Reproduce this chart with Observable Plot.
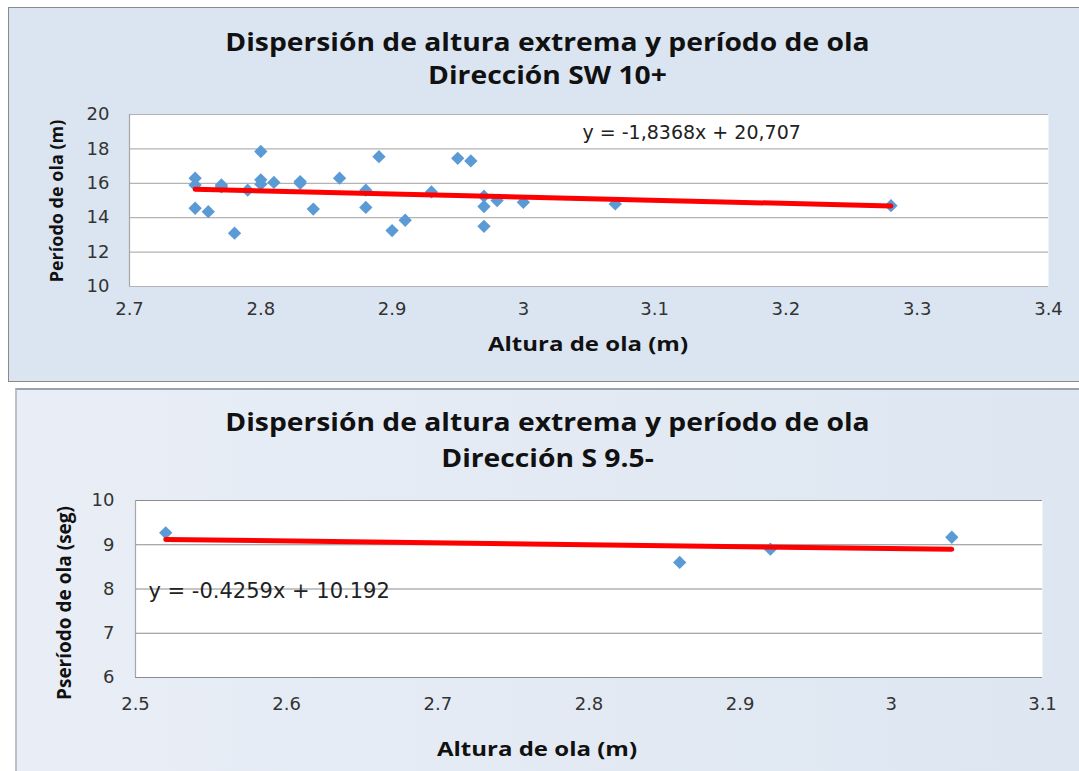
<!DOCTYPE html>
<html>
<head>
<meta charset="utf-8">
<script src="https://cdn.jsdelivr.net/npm/d3@7"></script>
<script src="https://cdn.jsdelivr.net/npm/@observablehq/plot@0.6"></script>
<style>
  html, body { margin: 0; padding: 0; background: #ffffff; }
  #page { position: relative; width: 1079px; height: 771px; overflow: hidden; font-family: "Open Sans", sans-serif; }
  .panel { position: absolute; box-sizing: border-box; }
  #p1 { left: 8px; top: 7px; width: 1090px; height: 375px; background: #dbe5f1; border: 1px solid #8a8a8a; }
  #p2 { left: 15px; top: 388px; width: 1080px; height: 400px; background: linear-gradient(90deg, #e9eef6 0%, #e3eaf4 50%, #dde6f1 100%); border-top: 2px solid #9aa3ad; border-left: 2px solid #b9c1ca; }
  .title { position: absolute; left: 8px; width: 1079px; text-align: center; font-weight: 700; font-size: 25px; color: #111; line-height: 1; white-space: nowrap; transform: scaleX(1.13); }
  .xt { position: absolute; transform: translate(-50%, -50%) scaleX(1.2); font-weight: 700; font-size: 20px; color: #111; white-space: nowrap; }
  .yt { position: absolute; transform: translate(-50%, -50%) rotate(-90deg); font-weight: 700; font-size: 18px; color: #111; white-space: nowrap; }
  .chart { position: absolute; left: 0; }
</style>
</head>
<body>
<div id="page">
  <div class="panel" id="p1"></div>
  <div class="panel" id="p2"></div>
  <div class="title" style="top:29px">Dispersión de altura extrema y período de ola</div>
  <div class="title" style="top:62px">Dirección SW 10+</div>
  <div class="title" style="top:409px">Dispersión de altura extrema y período de ola</div>
  <div class="title" style="top:445px">Dirección S 9.5-</div>
  <div class="xt" style="left:588px; top:343px">Altura de ola (m)</div>
  <div class="yt" style="left:56px; top:201px">Período de ola (m)</div>
  <div class="xt" style="left:537px; top:748px">Altura de ola (m)</div>
  <div class="yt" style="left:64px; top:603px; font-size:19px">Pseríodo de ola (seg)</div>
  <div class="chart" id="c1" style="top:100px"></div>
  <div class="chart" id="c2" style="top:480px"></div>
</div>
<script>
// ---------- Chart 1: Dirección SW 10+ ----------
const swAltura  = [2.75, 2.75, 2.75, 2.76, 2.77, 2.77, 2.78, 2.79, 2.80, 2.80, 2.80, 2.81, 2.83, 2.83, 2.84, 2.86, 2.88, 2.88, 2.89, 2.90, 2.91, 2.93, 2.95, 2.96, 2.97, 2.97, 2.97, 2.98, 3.00, 3.07, 3.28];
const swPeriodo = [16.3, 15.9, 14.55, 14.35, 15.9, 15.8, 13.1, 15.6, 17.85, 16.2, 15.95, 16.05, 16.0, 16.1, 14.5, 16.3, 15.6, 14.6, 17.55, 13.25, 13.85, 15.5, 17.45, 17.3, 15.25, 14.65, 13.5, 15.0, 14.9, 14.8, 14.7];
const swCoef = [-1.8368, 20.707];            // slope, intercept
const swEquation = "y = -1,8368x + 20,707";
const swXTicks = [2.7, 2.8, 2.9, 3.0, 3.1, 3.2, 3.3, 3.4];
const swYTicks = [10, 12, 14, 16, 18, 20];

// ---------- Chart 2: Dirección S 9.5- ----------
const sAltura  = [2.52, 2.86, 2.92, 3.04];
const sPeriodo = [9.27, 8.6, 8.9, 9.17];
const sCoef = [-0.4259, 10.192];
const sEquation = "y = -0.4259x + 10.192";
const sXTicks = [2.5, 2.6, 2.7, 2.8, 2.9, 3.0, 3.1];
const sYTicks = [6, 7, 8, 9, 10];

const blue = "#5b9bd5";
const fmt = d => String(+(+d).toFixed(1));

function trend(xs, coef) {
  return d3.extent(xs).map(x => ({x, y: coef[0] * x + coef[1]}));
}

function chart(cfg) {
  const pts = cfg.xs.map((x, i) => ({x, y: cfg.ys[i]}));
  return Plot.plot({
    width: 1079,
    height: cfg.height,
    marginLeft: cfg.mLeft,
    marginRight: cfg.mRight,
    marginTop: cfg.mTop,
    marginBottom: cfg.mBottom,
    style: {background: "transparent", fontFamily: "'DejaVu Sans', sans-serif", fontSize: "18px", color: "#333"},
    x: {domain: d3.extent(cfg.xTicks), ticks: cfg.xTicks, tickFormat: fmt},
    y: {domain: d3.extent(cfg.yTicks), ticks: cfg.yTicks, tickFormat: fmt},
    marks: [
      Plot.frame({fill: "white", stroke: null}),
      Plot.gridY(cfg.yTicks, {stroke: cfg.grid, strokeOpacity: 1, strokeWidth: 1.2}),
      Plot.ruleX([cfg.xTicks[0]], {stroke: "#a6a6a6", strokeWidth: 1.2}),
      Plot.axisX({ticks: cfg.xTicks, tickFormat: fmt, tickSize: 0, tickPadding: cfg.xPad, label: null, fontSize: "18px"}),
      Plot.axisY({ticks: cfg.yTicks, tickFormat: fmt, tickSize: 0, tickPadding: cfg.yPad, label: null, fontSize: "18px"}),
      Plot.dot(pts, {x: "x", y: "y", symbol: "diamond2", r: 6, fill: blue, stroke: null}),
      Plot.line(trend(cfg.xs, cfg.coef), {x: "x", y: "y", stroke: "#ff0000", strokeWidth: 5}),
      Plot.text([cfg.eq], {frameAnchor: cfg.eqAnchor, dx: cfg.eqDx, dy: cfg.eqDy, text: d => d, textAnchor: "start", fontSize: cfg.eqSize, fill: "#222"})
    ]
  });
}

document.getElementById("c1").append(chart({
  xs: swAltura, ys: swPeriodo, coef: swCoef, eq: swEquation,
  xTicks: swXTicks, yTicks: swYTicks,
  height: 240, mLeft: 129, mRight: 31, mTop: 14, mBottom: 54,
  xPad: 16, yPad: 20, grid: "#b3b3b3",
  eqAnchor: "top-left", eqDx: 453, eqDy: 11, eqSize: 19
}));

document.getElementById("c2").append(chart({
  xs: sAltura, ys: sPeriodo, coef: sCoef, eq: sEquation,
  xTicks: sXTicks, yTicks: sYTicks,
  height: 250, mLeft: 135, mRight: 37, mTop: 20, mBottom: 53,
  xPad: 20, yPad: 21, grid: "#8c8c8c",
  eqAnchor: "left", eqDx: 13, eqDy: 2, eqSize: 21
}));
</script>
</body>
</html>
